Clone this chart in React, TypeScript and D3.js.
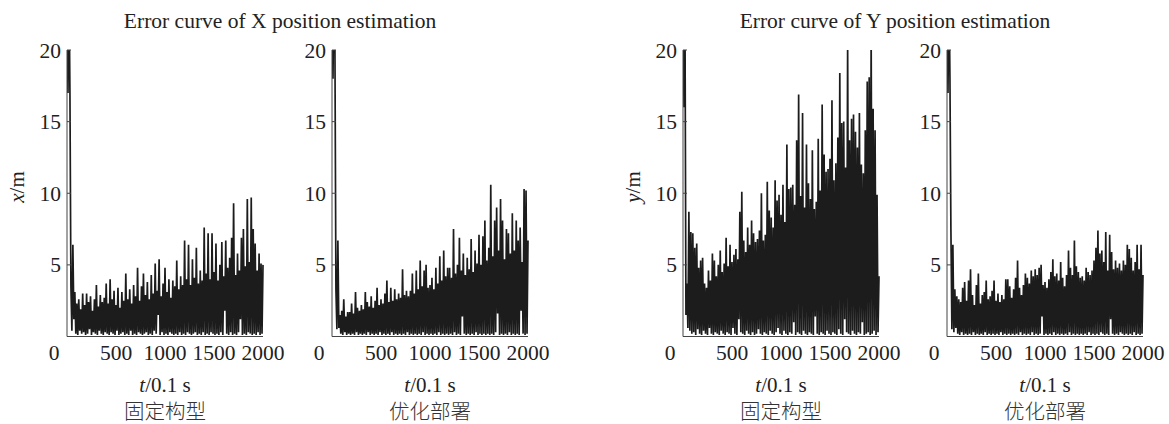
import React from "react";
import * as d3 from "d3";

// time axis: t = 0, 10, ..., 2000 (unit 0.1 s)
const tStep = 10;
const xTicks = [500, 1000, 1500, 2000];
const yTicks = [5, 10, 15, 20];

const titles = ["Error curve of X position estimation", "Error curve of Y position estimation"];
const captions = ["固定构型", "优化部署"];

// X error, fixed configuration
const xFixed = [
  24, 17, 25, 17, 3.5, 0.4, 6.4, 1.2, 3.1, 0.2,
  2.3, 0.1, 2.6, 0.4, 1.9, 0.2, 3.0, 0.3, 2.2, 0.1,
  3.0, 0.2, 2.4, 0.5, 2.8, 0.1, 1.8, 0.3, 2.6, 0.2,
  3.6, 0.1, 2.1, 0.4, 2.9, 0.2, 2.4, 0.1, 2.7, 0.3,
  3.7, 0.2, 2.3, 0.1, 4.0, 0.3, 2.6, 0.2, 3.2, 0.1,
  2.2, 0.4, 3.4, 0.1, 2.0, 0.2, 3.1, 0.3, 2.5, 0.1,
  4.4, 0.2, 2.6, 0.1, 3.3, 0.4, 2.3, 0.1, 3.6, 0.2,
  2.8, 0.1, 4.8, 0.3, 2.5, 0.2, 3.5, 0.1, 4.4, 0.2,
  2.9, 0.3, 3.8, 0.1, 2.6, 0.2, 4.3, 0.1, 3.0, 0.4,
  5.1, 0.2, 3.2, 1.5, 5.4, 0.1, 2.8, 0.3, 3.7, 0.1,
  4.8, 0.2, 3.1, 0.1, 4.0, 0.3, 2.7, 0.2, 3.9, 0.1,
  3.5, 0.2, 5.3, 0.1, 3.3, 0.3, 4.2, 0.1, 3.6, 0.2,
  6.7, 0.1, 4.0, 0.3, 6.4, 0.2, 3.6, 0.1, 5.4, 0.2,
  4.1, 0.3, 6.2, 0.1, 3.7, 0.2, 4.6, 0.1, 3.9, 0.3,
  7.6, 0.1, 4.4, 0.2, 7.2, 0.1, 4.0, 0.3, 7.2, 0.2,
  4.5, 0.1, 6.5, 0.2, 3.9, 0.1, 5.0, 0.3, 6.6, 0.1,
  4.2, 1.8, 6.7, 0.2, 4.8, 0.1, 5.5, 0.3, 6.9, 0.1,
  9.3, 0.2, 4.3, 0.1, 5.8, 0.3, 4.6, 1.2, 6.9, 0.1,
  7.5, 0.2, 4.9, 0.1, 9.6, 0.3, 5.2, 0.2, 9.7, 0.1,
  7.5, 0.2, 6.5, 0.1, 4.6, 0.3, 5.8, 0.1, 5.1, 0.2, 5.0,
];

// X error, optimized deployment
const xOpt = [
  24, 18, 25, 20, 3.3, 0.5, 6.7, 0.6, 1.5, 0.2,
  1.8, 0.1, 2.6, 0.3, 1.4, 0.1, 1.7, 0.2, 1.7, 0.1,
  2.3, 0.2, 1.6, 0.1, 3.1, 0.3, 2.0, 0.1, 1.8, 0.2,
  2.2, 0.1, 1.9, 0.2, 3.1, 0.1, 2.4, 0.3, 2.1, 0.1,
  2.8, 0.2, 2.0, 0.1, 2.5, 0.2, 3.4, 0.1, 2.2, 0.3,
  2.6, 0.1, 2.3, 0.2, 3.0, 0.1, 3.9, 0.2, 2.4, 0.1,
  3.4, 0.3, 2.5, 0.1, 3.3, 0.2, 2.6, 0.1, 3.0, 0.2,
  2.7, 0.1, 4.7, 0.2, 2.9, 0.1, 3.2, 0.3, 2.8, 0.1,
  3.2, 0.2, 4.4, 0.1, 3.0, 0.2, 4.6, 0.1, 3.3, 0.2,
  5.3, 0.1, 3.5, 0.3, 4.6, 0.1, 5.0, 0.2, 3.4, 0.1,
  3.6, 0.2, 4.1, 0.1, 3.3, 0.2, 4.8, 0.1, 3.7, 0.3,
  5.6, 0.1, 3.9, 0.2, 6.0, 0.1, 4.2, 0.2, 4.8, 0.1,
  4.8, 0.2, 4.1, 0.1, 7.5, 0.3, 4.4, 0.1, 5.0, 0.2,
  6.9, 0.1, 4.6, 1.4, 5.8, 0.2, 4.3, 0.1, 5.5, 0.2,
  4.7, 0.1, 6.8, 0.2, 4.5, 0.1, 6.0, 0.3, 5.1, 0.1,
  7.1, 0.2, 5.0, 0.1, 7.0, 0.2, 8.1, 0.1, 5.3, 0.2,
  6.2, 0.1, 10.6, 0.2, 5.6, 0.1, 8.1, 0.3, 9.0, 1.6,
  6.0, 0.1, 9.6, 0.2, 8.1, 0.1, 5.4, 0.2, 7.5, 0.1,
  7.2, 0.3, 5.8, 0.1, 8.6, 0.2, 6.0, 0.1, 8.1, 0.2,
  6.7, 0.1, 7.6, 1.8, 5.2, 0.2, 10.3, 0.1, 10.2, 0.2, 6.7,
];

// Y error, fixed configuration
const yFixed = [
  24, 16, 23, 1.5, 3.7, 0.6, 8.7, 0.4, 7.3, 0.2,
  7.2, 0.3, 6.2, 0.1, 6.5, 0.5, 4.8, 0.2, 5.3, 0.1,
  5.5, 0.4, 3.7, 0.2, 3.4, 0.1, 4.6, 0.6, 3.9, 0.2,
  5.8, 0.1, 5.3, 0.3, 4.2, 0.2, 5.0, 0.1, 6.0, 0.4,
  4.5, 0.2, 5.1, 0.1, 6.9, 0.3, 4.9, 0.2, 6.4, 0.1,
  5.2, 0.6, 5.7, 0.2, 6.1, 0.1, 5.4, 1.2, 8.7, 0.3,
  10.1, 0.2, 6.7, 0.1, 5.9, 0.4, 7.6, 0.2, 6.4, 0.1,
  8.1, 0.3, 7.2, 0.1, 6.6, 0.2, 6.8, 0.5, 7.4, 0.2,
  10.0, 0.1, 6.7, 0.3, 7.1, 0.2, 10.8, 0.1, 8.8, 0.4,
  8.3, 0.2, 7.6, 0.1, 10.9, 0.3, 9.5, 0.6, 9.9, 0.2,
  8.5, 0.1, 10.6, 0.4, 8.0, 0.2, 13.4, 0.1, 10.3, 0.3,
  10.4, 0.2, 10.6, 1.0, 9.2, 0.1, 13.7, 0.3, 16.9, 0.2,
  9.8, 0.1, 15.6, 0.4, 9.0, 0.2, 13.4, 0.1, 10.7, 0.3,
  9.6, 0.2, 13.0, 0.1, 8.9, 1.4, 9.4, 0.2, 13.8, 0.1,
  10.2, 0.3, 16.2, 0.2, 12.7, 0.1, 11.5, 0.4, 11.7, 0.2,
  12.4, 0.1, 16.5, 0.3, 10.9, 0.2, 12.1, 0.1, 13.9, 0.5,
  18.4, 0.2, 14.9, 0.1, 15.0, 1.2, 11.8, 0.3, 20.5, 0.2,
  13.7, 0.1, 15.2, 0.4, 15.5, 0.2, 14.3, 0.1, 13.2, 0.3,
  15.6, 0.2, 12.0, 1.0, 11.4, 0.1, 14.4, 0.2, 17.8, 0.3,
  18.1, 0.1, 21, 0.2, 15.9, 0.4, 14.4, 0.1, 9.9, 0.3, 4.2,
];

// Y error, optimized deployment
const yOpt = [
  24, 17, 25, 18, 7.4, 0.5, 6.4, 0.3, 3.3, 0.6,
  2.8, 0.2, 2.6, 0.1, 2.4, 0.3, 3.4, 0.1, 3.8, 0.2,
  2.5, 0.1, 3.9, 0.2, 4.7, 0.1, 2.9, 0.3, 2.2, 0.1,
  3.6, 0.2, 4.4, 0.1, 2.3, 0.2, 2.9, 0.1, 3.1, 0.3,
  3.9, 0.1, 2.6, 0.2, 2.8, 0.1, 3.2, 0.2, 3.9, 0.1,
  2.5, 0.2, 3.0, 0.1, 2.4, 0.3, 2.9, 0.1, 2.6, 0.2,
  4.0, 0.1, 4.0, 0.2, 3.5, 0.1, 2.7, 0.2, 3.3, 0.1,
  4.1, 0.2, 5.3, 0.1, 3.4, 0.3, 2.9, 0.1, 3.6, 0.2,
  4.4, 0.1, 4.1, 0.2, 3.7, 0.1, 4.6, 0.3, 4.2, 0.1,
  4.7, 0.2, 4.3, 0.1, 4.8, 0.2, 5.0, 1.4, 3.6, 0.1,
  3.8, 0.2, 3.4, 0.1, 4.0, 0.2, 4.5, 0.1, 5.4, 0.3,
  4.2, 0.1, 4.4, 0.2, 3.9, 0.1, 5.2, 0.2, 4.1, 0.1,
  3.5, 0.2, 4.3, 0.1, 6.0, 0.3, 4.8, 0.1, 4.3, 0.2,
  6.7, 0.1, 4.9, 0.2, 4.5, 0.1, 4.1, 0.2, 4.2, 0.1,
  3.9, 0.2, 4.8, 0.1, 4.5, 0.3, 4.3, 0.1, 4.6, 0.2,
  5.3, 0.1, 6.2, 0.2, 7.4, 0.1, 5.8, 0.3, 6.0, 0.2,
  5.2, 0.1, 7.3, 0.2, 4.6, 0.1, 7.1, 1.2, 5.9, 0.2,
  4.7, 0.1, 5.3, 0.2, 4.8, 0.1, 5.1, 0.3, 4.6, 0.2,
  5.3, 0.1, 5.0, 0.2, 6.4, 0.1, 6.1, 0.2, 5.5, 0.1,
  4.6, 0.3, 5.2, 0.1, 6.4, 0.2, 4.7, 0.1, 6.4, 0.2, 4.3,
];

const SERIF = "'Liberation Serif', 'Times New Roman', serif";
const CJK = "'Noto Sans CJK SC', sans-serif";

const TOP = 50;
const BOTTOM = 336.5;
const PW = 196;
const TICK_FS = 21.5;

type PanelProps = { left: number; data: number[]; ylabel?: string; caption: string; id: string };

function Panel({ left, data, ylabel, caption, id }: PanelProps) {
  const x = d3.scaleLinear().domain([0, 2000]).range([left, left + PW]);
  const y = d3.scaleLinear().domain([0, 20]).range([BOTTOM, TOP]);
  const line = d3
    .line<number>()
    .x((_, i) => x(i * tStep))
    .y((d) => y(d));
  const cx = left + PW / 2;
  return (
    <g>
      <defs>
        <clipPath id={id}>
          <rect x={left} y={TOP} width={PW + 2} height={BOTTOM - TOP} />
        </clipPath>
      </defs>
      <path
        d={line(data) || ""}
        fill="none"
        stroke="#1c1c1c"
        strokeWidth={1.7}
        strokeLinejoin="miter"
        strokeMiterlimit={2}
        clipPath={`url(#${id})`}
      />
      <line x1={left} x2={left} y1={TOP} y2={BOTTOM} stroke="#444" strokeWidth={1} />
      <line x1={left} x2={left + PW} y1={BOTTOM} y2={BOTTOM} stroke="#444" strokeWidth={1} />
      {yTicks.map((t) => (
        <g key={t}>
          <line x1={left} x2={left + 4} y1={y(t)} y2={y(t)} stroke="#444" strokeWidth={1} />
          <text x={left - 6} y={y(t)} dy="0.35em" textAnchor="end" fontFamily={SERIF} fontSize={TICK_FS} fill="#222">
            {t}
          </text>
        </g>
      ))}
      <text x={left - 13} y={360} textAnchor="middle" fontFamily={SERIF} fontSize={TICK_FS} fill="#222">
        0
      </text>
      {xTicks.map((t) => (
        <text key={t} x={x(t)} y={360} textAnchor="middle" fontFamily={SERIF} fontSize={TICK_FS} fill="#222">
          {t}
        </text>
      ))}
      <text x={cx} y={392} textAnchor="middle" fontFamily={SERIF} fontSize={21} fill="#222">
        <tspan fontStyle="italic">t</tspan>/0.1 s
      </text>
      <text x={cx} y={419} textAnchor="middle" fontFamily={CJK} fontSize={20.5} fontWeight={300} fill="#333">
        {caption}
      </text>
      {ylabel && (
        <text
          transform={`translate(${left - 43},${187}) rotate(-90)`}
          textAnchor="middle"
          fontFamily={SERIF}
          fontSize={21}
          fill="#222"
        >
          <tspan fontStyle="italic">{ylabel}</tspan>/m
        </text>
      )}
    </g>
  );
}

export default function App() {
  return (
    <svg
      width={1169}
      height={424}
      style={{ position: "absolute", left: 0, top: 0, background: "#fff" }}
      xmlns="http://www.w3.org/2000/svg"
    >
      <rect width={1169} height={424} fill="#fff" />
      <text x={280} y={28} textAnchor="middle" fontFamily={SERIF} fontSize={21.5} fill="#222">
        {titles[0]}
      </text>
      <text x={895} y={28} textAnchor="middle" fontFamily={SERIF} fontSize={21.5} fill="#222">
        {titles[1]}
      </text>
      <Panel left={67} data={xFixed} ylabel="x" caption={captions[0]} id="c1" />
      <Panel left={332} data={xOpt} caption={captions[1]} id="c2" />
      <Panel left={683} data={yFixed} ylabel="y" caption={captions[0]} id="c3" />
      <Panel left={947} data={yOpt} caption={captions[1]} id="c4" />
    </svg>
  );
}
